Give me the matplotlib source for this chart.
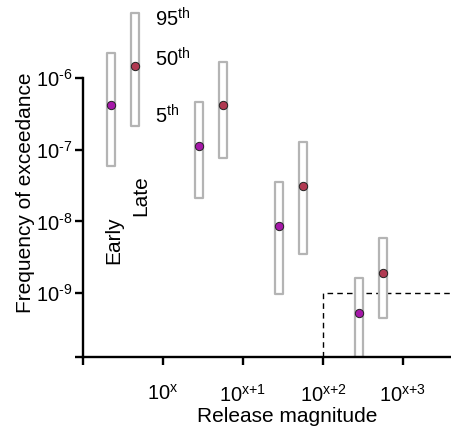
"""
Frequency of exceedance vs release magnitude, early vs late release.
"""

import matplotlib
matplotlib.use('Agg')
import matplotlib.pyplot as plt

plt.rcParams['font.family'] = ['Liberation Sans', 'DejaVu Sans']
plt.rcParams['mathtext.fontset'] = 'custom'
plt.rcParams['mathtext.rm'] = 'Liberation Sans'
plt.rcParams['mathtext.it'] = 'Liberation Sans:italic'

# --- Data (x in decades of release magnitude, y = frequency) ---
early_x = [0.35, 1.45, 2.45, 3.45]
late_x = [0.65, 1.75, 2.75, 3.75]

early_p50 = [4.2e-7, 1.13e-7, 8.7e-9, 5.3e-10]
early_p95 = [2.25e-6, 4.7e-7, 3.55e-8, 1.62e-9]
early_p5 = [5.9e-8, 2.15e-8, 9.8e-10, 1.28e-10]

late_p50 = [1.48e-6, 4.2e-7, 3.1e-8, 1.9e-9]
late_p95 = [8.1e-6, 1.66e-6, 1.29e-7, 5.9e-9]
late_p5 = [2.15e-7, 7.6e-8, 3.55e-9, 4.45e-10]

xtick_pos = [0, 1, 2, 3, 4]
xtick_labels = ['', r'$10^{\text{x}}$', r'$10^{\text{x+1}}$',
                r'$10^{\text{x+2}}$', r'$10^{\text{x+3}}$']
ytick_pos = [10**-9.89, 1e-9, 1e-8, 1e-7, 1e-6]
ytick_labels = ['', r'$10^{\text{-9}}$', r'$10^{\text{-8}}$',
                r'$10^{\text{-7}}$', r'$10^{\text{-6}}$']

threshold_x = 3
threshold_y = 1e-9

EARLY_COLOR = '#a518a8'
LATE_COLOR = '#b03a52'
BOX_COLOR = '#b4b4b4'
FS = 15
TICK_FS = 14.5

XMAX = 4.6125
YMIN = 10**-9.89

fig = plt.figure(figsize=(4.52, 4.30), dpi=100)
ax = fig.add_axes([83 / 452, 73 / 430, 369 / 452, 357 / 430])
ax.set_yscale('log')
ax.set_xlim(0, XMAX)
ax.set_ylim(YMIN, 10**-4.912)

box_w = 0.1


def draw_boxes(xs, lo, hi, mid, color):
    for x, l, h, m in zip(xs, lo, hi, mid):
        ax.fill_between([x - box_w / 2, x + box_w / 2], [l, l], [h, h],
                        facecolor='white', edgecolor=BOX_COLOR, linewidth=1.6,
                        zorder=2)
        ax.plot([x], [m], 'o', color=color, markeredgecolor='#222222',
                markeredgewidth=0.7, markersize=6, zorder=3)


draw_boxes(early_x, early_p5, early_p95, early_p50, EARLY_COLOR)
draw_boxes(late_x, late_p5, late_p95, late_p50, LATE_COLOR)

# Threshold region
ax.plot([threshold_x, threshold_x, XMAX], [YMIN, threshold_y, threshold_y],
        color='black', linestyle=(0, (4, 3)), linewidth=1.0, zorder=1)

# Annotations (placed in pixel terms of the reference)
px = lambda p: (p - 83) / 80
py = lambda p: 10 ** (-6 - (p - 78) / 71.7)
ax.text(px(155), py(19), r'95$^{\text{th}}$', fontsize=TICK_FS, ha='left', va='center')
ax.text(px(155), py(59), r'50$^{\text{th}}$', fontsize=TICK_FS, ha='left', va='center')
ax.text(px(155), py(116), r'5$^{\text{th}}$', fontsize=TICK_FS, ha='left', va='center')
ax.text(px(114), py(240), 'Early', fontsize=15, rotation=90, ha='center', va='center')
ax.text(px(141), py(196), 'Late', fontsize=15, rotation=90, ha='center', va='center')

# Axes styling
for side in ['top', 'right']:
    ax.spines[side].set_visible(False)
ax.spines['left'].set_bounds(YMIN, 1e-6)
ax.spines['left'].set_linewidth(1.7)
ax.spines['bottom'].set_linewidth(1.7)

ax.set_xticks(xtick_pos)
ax.set_xticklabels(xtick_labels, fontsize=TICK_FS)
ax.set_yticks(ytick_pos)
ax.set_yticklabels(ytick_labels, fontsize=TICK_FS)
ax.yaxis.set_minor_locator(matplotlib.ticker.NullLocator())
ax.tick_params(axis='both', direction='out', length=5.5, width=1.7, color='black')
ax.tick_params(axis='x', pad=14)
ax.tick_params(axis='y', pad=2)

fig.text(26 / 452, 1 - 193 / 430, 'Frequency of exceedance', fontsize=FS,
         rotation=90, ha='center', va='center')
fig.text(287 / 452, 1 - 417 / 430, 'Release magnitude', fontsize=FS,
         ha='center', va='center')

plt.savefig('out.png', dpi=100)
plt.close()
